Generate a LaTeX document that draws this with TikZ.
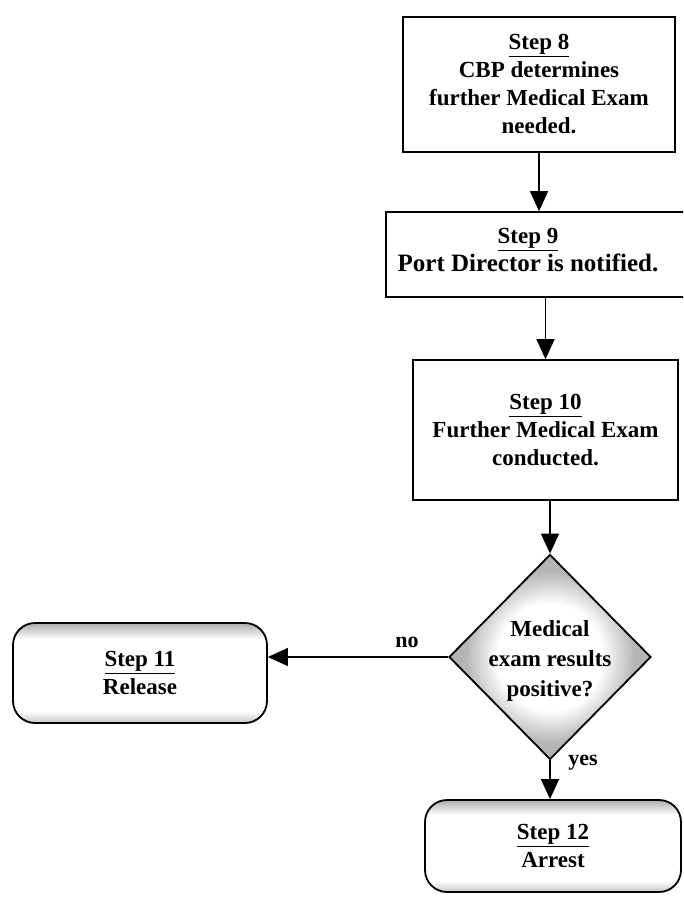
\documentclass[tikz,border=0pt]{standalone}
\usepackage{fontspec}
\setmainfont{Liberation Serif}
\usetikzlibrary{shapes.geometric,arrows.meta}
\pgfdeclareverticalshading{edgeband}{100bp}{color(0bp)=(gray!45); color(25bp)=(gray!45); color(31bp)=(white); color(67bp)=(white); color(75bp)=(gray!65); color(100bp)=(gray!65)}
\pgfdeclareradialshading{diafade}{\pgfpoint{0bp}{0bp}}{color(0bp)=(white); color(13bp)=(white); color(21bp)=(gray!58); color(50bp)=(gray!68)}
\begin{document}
\begin{tikzpicture}[x=1pt,y={(0pt,-1pt)},
  every node/.style={font=\bfseries\fontsize{23}{28}\selectfont},
  sqbox/.style={draw,line width=1.6pt,inner sep=0pt,align=center},
  rbox/.style={draw,line width=1.8pt,rounded corners=22pt,inner sep=0pt,align=center,
    shading=edgeband},
  decision/.style={draw,diamond,line width=1.8pt,inner sep=0pt,shading=diafade},
  arr/.style={line width=1.4pt,-{Triangle[length=20pt,width=18pt]}},
  lbl/.style={font=\bfseries\fontsize{22}{26}\selectfont}
]
\clip (0,0) rectangle (683,905);
\fill[white] (0,0) rectangle (683,905);

\node[sqbox,minimum width=272pt,minimum height=135pt] (s8) at (539,84.5)
  {\underline{Step 8}\\CBP determines\\further Medical Exam\\needed.};

\node[sqbox,minimum width=318pt,minimum height=85pt,
  label={[align=center,xshift=-17pt,yshift=4pt,font=\bfseries\fontsize{25}{28}\selectfont]center:\fontsize{23}{28}\selectfont\underline{Step 9}\\Port Director is notified.}]
  (s9) at (545,254.5) {};

\node[sqbox,minimum width=265pt,minimum height=140pt] (s10) at (545.5,430)
  {\underline{Step 10}\\Further Medical Exam\\conducted.};

\node[decision,minimum width=202pt,minimum height=205pt,
  label={[align=center,yshift=-4pt,font=\bfseries\fontsize{23}{30}\selectfont]center:Medical\\exam results\\positive?}]
  (dec) at (550,657) {};

\node[rbox,minimum width=254pt,minimum height=100pt] (s11) at (140,673)
  {\underline{Step 11}\\Release};

\node[rbox,minimum width=256pt,minimum height=92pt] (s12) at (553,846)
  {\underline{Step 12}\\Arrest};

\draw[arr] (s8.south) -- (s8.south |- s9.north);
\draw[arr] (s10.north |- s9.south) -- (s10.north);
\draw[arr] (s10.south -| dec.north) -- (dec.north);
\draw[arr] (dec.west) -- (dec.west -| s11.east);
\draw[arr] (dec.south) -- (dec.south |- s12.north);

\node[lbl] (no) at (407,642) {no};
\node[lbl] (yes) at (583,763) {yes};
\end{tikzpicture}
\end{document}
